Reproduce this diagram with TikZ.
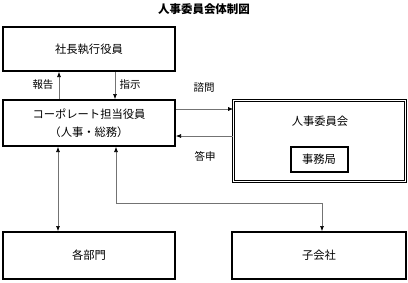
\documentclass[tikz,border=0pt]{standalone}
\usepackage{fontspec}
\setmainfont{Noto Sans CJK JP}
\usetikzlibrary{arrows.meta}
\tikzset{
  box/.style={draw=black,line width=2pt,minimum width=172pt,inner sep=0pt,font=\fontsize{11.3}{14}\selectfont,align=center},
  conn/.style={draw=black!55,line width=0.6pt},
  arr/.style={conn,-{Latex[length=5pt,width=4pt,black]}},
  darr/.style={conn,{Latex[length=5pt,width=4pt,black]}-{Latex[length=5pt,width=4pt,black]}},
  lbl/.style={font=\fontsize{10.5}{12}\selectfont,inner sep=0pt}
}
\begin{document}
\begin{tikzpicture}[x=1pt,y=-1pt]
\useasboundingbox (0,0) rectangle (408,282);
\node[font=\fontsize{11.5}{13}\selectfont\bfseries] (title) at (204,9) {人事委員会体制図};
\node[box,minimum height=44pt] (shacho) at (89,49) {社長執行役員};
\node[box,minimum height=46pt] (corp) at (89,123) {コーポレート担当役員\\[4pt]（人事・総務）};
\node[box,minimum height=47pt] (bumon) at (89,255.5) {各部門};
\node[box,minimum height=47pt,minimum width=174pt] (kogaisha) at (319,255.5) {子会社};
\node[draw=black,line width=0.7pt,double=white,double distance=1.6pt,minimum width=172pt,minimum height=81pt,inner sep=0pt] (iinkai) at (319.5,141) {};
\node[font=\fontsize{11.3}{14}\selectfont] (iinkaiT) at (320,121) {人事委員会};
\node[box,minimum width=57pt,minimum height=25pt] (jimu) at (319,159) {事務局};
\coordinate (xa) at (59,0);
\coordinate (xb) at (115,0);
\coordinate (xc) at (58,0);
\coordinate (xd) at (116,0);
\coordinate (xe) at (322,0);
\coordinate (ya) at (0,109);
\coordinate (yb) at (0,136);
\coordinate (yc) at (0,203);
\draw[arr] (corp.north -| xa) -- (shacho.south -| xa);
\draw[arr] (shacho.south -| xb) -- (corp.north -| xb);
\node[lbl] (houkoku) at (43,85) {報告};
\node[lbl] (shiji) at (130,85) {指示};
\draw[arr] (corp.east |- ya) -- (iinkai.west |- ya);
\draw[arr] (iinkai.west |- yb) -- (corp.east |- yb);
\node[lbl] (shimon) at (204,88) {諮問};
\node[lbl] (toushin) at (205,156) {答申};
\draw[darr] (corp.south -| xc) -- (bumon.north -| xc);
\draw[darr] (corp.south -| xd) -- (xd |- yc) -- (xe |- yc) -- (kogaisha.north -| xe);
\end{tikzpicture}
\end{document}
